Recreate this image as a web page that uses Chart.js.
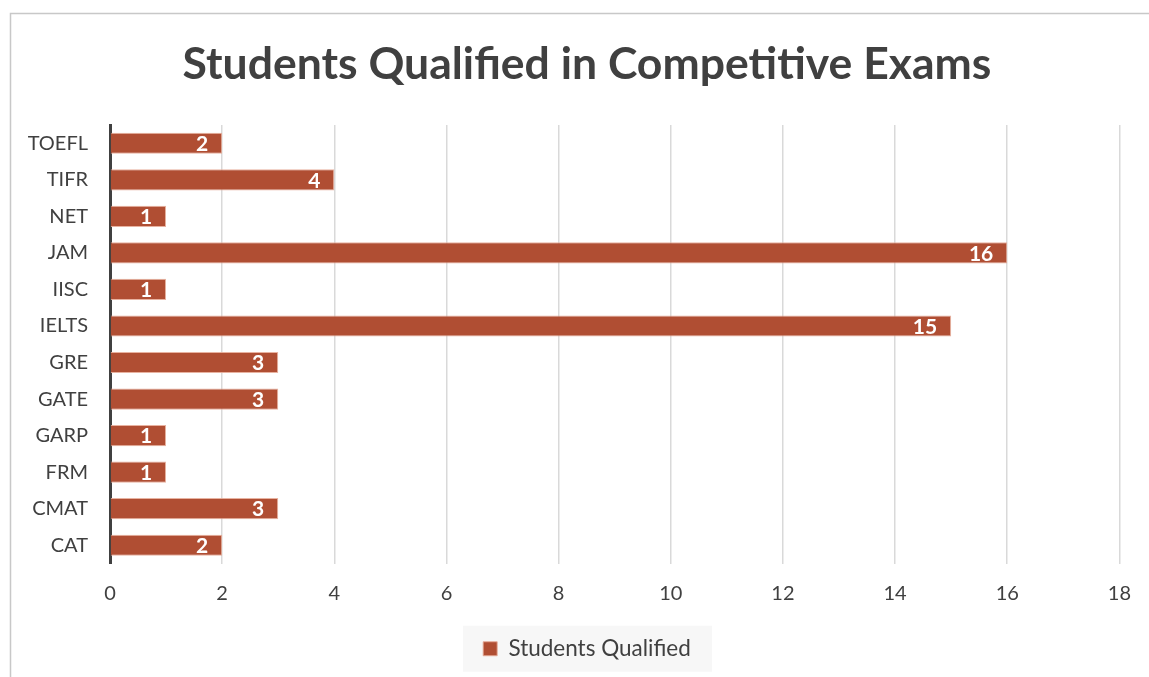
<!DOCTYPE html>
<html>
<head>
<meta charset="utf-8">
<script src="https://cdn.jsdelivr.net/npm/chart.js@4"></script>
<style>
  html,body{margin:0;padding:0;background:#fff;}
  #wrap{width:1149px;height:677px;position:relative;}
</style>
</head>
<body>
<div id="wrap"><canvas id="c" width="1149" height="677"></canvas></div>
<script>
const categories = ["TOEFL","TIFR","NET","JAM","IISC","IELTS","GRE","GATE","GARP","FRM","CMAT","CAT"];
const studentsQualified = [2,4,1,16,1,15,3,3,1,1,3,2];
const xTicks = [0,2,4,6,8,10,12,14,16,18];
const seriesName = "Students Qualified";
const titleText = "Students Qualified in Competitive Exams";

const FONT = "Lato, 'Open Sans', sans-serif";
const BAR = "#B04E33";

const framePlugin = {
  id: 'frame',
  beforeDraw(chart) {
    const ctx = chart.ctx;
    ctx.save();
    ctx.strokeStyle = '#c8c8c8';
    ctx.lineWidth = 1.5;
    ctx.beginPath();
    ctx.moveTo(10.5, 677);
    ctx.lineTo(10.5, 13.5);
    ctx.lineTo(1149, 13.5);
    ctx.stroke();
    const lg = chart.legend;
    if (lg && lg.legendHitBoxes && lg.legendHitBoxes.length) {
      const hb = lg.legendHitBoxes[0];
      const cx = hb.left + hb.width / 2;
      const cy = hb.top + hb.height / 2;
      ctx.fillStyle = '#f7f7f7';
      ctx.fillRect(cx - 124, cy - 23, 249, 46);
    }
    ctx.restore();
  }
};

const labelPlugin = {
  id: 'barLabels',
  afterDatasetsDraw(chart) {
    const ctx = chart.ctx;
    const meta = chart.getDatasetMeta(0);
    ctx.save();
    ctx.fillStyle = '#ffffff';
    ctx.font = "bold 21px " + FONT;
    ctx.textAlign = 'right';
    ctx.textBaseline = 'middle';
    meta.data.forEach((bar, i) => {
      ctx.fillText(String(chart.data.datasets[0].data[i]), bar.x - 14, bar.y + 1);
    });
    ctx.restore();
  }
};

new Chart(document.getElementById('c'), {
  type: 'bar',
  data: {
    labels: categories,
    datasets: [{
      label: seriesName,
      data: studentsQualified,
      backgroundColor: BAR,
      borderColor: 'rgba(230,170,150,0.9)',
      borderWidth: 1,
      barPercentage: 0.58,
      categoryPercentage: 1.0
    }]
  },
  options: {
    indexAxis: 'y',
    responsive: false,
    animation: false,
    devicePixelRatio: 1,
    layout: { padding: { left: 46, right: 21, top: 0, bottom: 7 } },
    scales: {
      x: {
        min: 0, max: 18,
        afterBuildTicks(s) { s.ticks = xTicks.map(v => ({ value: v })); },
        grid: { color: '#d9d9d9', lineWidth: 1.5, drawTicks: false },
        border: { display: false },
        ticks: { color: '#404040', font: { family: FONT, size: 20 }, padding: 18 },
        afterFit(s) { s.height = 62; }
      },
      y: {
        grid: { display: false, drawTicks: false },
        border: { display: true, color: '#404040', width: 3 },
        ticks: { color: '#404040', font: { family: FONT, size: 20 }, padding: 22 },
        afterFit(s) { s.width = 64; s._computeLabelArea = () => undefined; }
      }
    },
    plugins: {
      title: {
        display: true,
        text: titleText,
        color: '#404040',
        font: { family: FONT, size: 44.5, weight: 'bold' },
        padding: { top: 38.3, bottom: 33.3 }
      },
      legend: {
        display: true,
        position: 'bottom',
        labels: {
          color: '#404040',
          font: { family: FONT, size: 22.5 },
          boxWidth: 14, boxHeight: 14,
          padding: 12
        }
      },
      tooltip: { enabled: false }
    }
  },
  plugins: [framePlugin, labelPlugin]
});
</script>
</body>
</html>
